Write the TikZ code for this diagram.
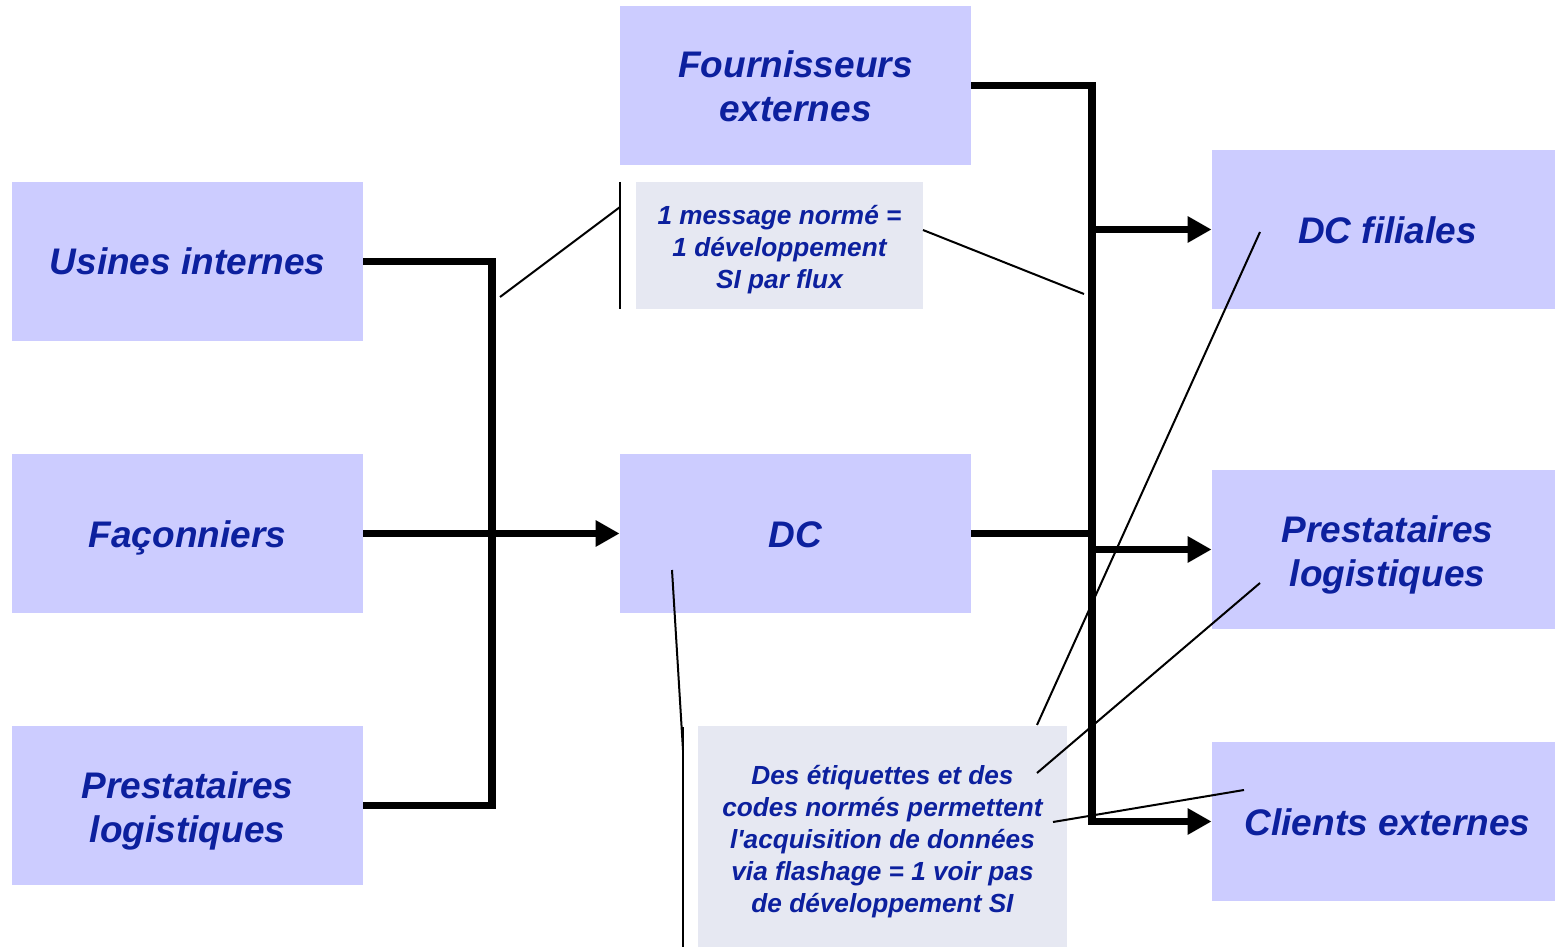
\documentclass[tikz,border=0pt]{standalone}
\usepackage{fontspec}
\setmainfont{Liberation Sans}[Ligatures=TeXOff]
\usetikzlibrary{arrows.meta}
\definecolor{boxfill}{HTML}{CCCCFF}
\definecolor{notefill}{HTML}{E6E8F2}
\definecolor{txtblue}{RGB}{12,32,158}
\newcommand{\topstrut}[1]{\rule{0pt}{#1}}
\newcommand{\botstrut}[1]{\rule[-#1]{0pt}{0pt}}
\begin{document}
\begin{tikzpicture}[x=0.5pt,y=-0.5pt,
  basebox/.style={rectangle, fill=boxfill, inner sep=0pt, minimum width=175.5pt, minimum height=79.5pt,
    align=center, text=txtblue, font=\fontsize{18.5}{22}\selectfont\bfseries\itshape},
  mainbox/.style={basebox,
    execute at begin node={\rule{0pt}{18pt}},
    execute at end node={\rule[-4.5pt]{0pt}{0pt}}},
  notebox/.style={rectangle, fill=notefill, inner sep=0pt, align=center, text=txtblue,
    font=\fontsize{13.1}{16}\selectfont\bfseries\itshape},
  note1box/.style={notebox, minimum width=143.5pt, minimum height=63.5pt},
  note2box/.style={notebox, minimum width=184.5pt, minimum height=110.5pt},
  flow/.style={line width=3.6pt, line join=miter},
  flowarrow/.style={flow, -{Triangle[length=12pt,width=12.5pt]}},
  pointer/.style={line width=1pt}
]
\useasboundingbox (0,0) rectangle (1555,947);

% main boxes (the right-hand ones run past the right edge)
\node[mainbox] (usines) at (187.5,261.5) {Usines internes};
\node[mainbox] (faco) at (187.5,533.5) {Façonniers};
\node[basebox] (prestL) at (187.5,805.5) {\topstrut{19pt}Prestataires\\logistiques\botstrut{4.5pt}};
\node[basebox] (fourn) at (795.5,85.5) {\topstrut{19pt}Fournisseurs\\externes\botstrut{4.5pt}};
\node[mainbox] (dc) at (795.5,533.5) {DC};
\node[mainbox] (dcf) at (1387.5,229.5) {DC filiales};
\node[basebox] (prestR) at (1387.5,549.5) {\topstrut{19pt}Prestataires\\logistiques\botstrut{4.5pt}};
\node[mainbox] (clients) at (1387.5,821.5) {Clients externes};

% note boxes
\node[note1box] (note1) at (779.5,245.5)
  {\topstrut{14.5pt}1 message normé =\\1 développement\\SI par flux\botstrut{4pt}};
\node[note2box] (note2) at (882.5,836.5)
  {\topstrut{15.5pt}Des étiquettes et des\\codes normés permettent\\l'acquisition de données\\via flashage = 1 voir pas\\de développement SI\botstrut{4pt}};

% flow coordinates
\coordinate (busL) at (492,533.5);
\coordinate (busRbot) at (1092,821.5);
\coordinate (jDC) at (1092,533.5);
\coordinate (jDCF) at (1092,229.5);
\coordinate (jPR) at (1092,549.5);

% flows
\draw[flow] (usines.east) -| (busL) |- (prestL.east);
\draw[flowarrow] (faco.east) -- (dc.west);
\draw[flowarrow] (fourn.east) -| (busRbot) -- (clients.west);
\draw[flow] (dc.east) -- (jDC);
\draw[flowarrow] (jDCF) -- (dcf.west);
\draw[flowarrow] (jPR) -- (prestR.west);

% pointer coordinates
\coordinate (b1top) at (620,182);
\coordinate (b1bot) at (620,309);
\coordinate (b1mid) at (620,207);
\coordinate (p1a) at (500,297);
\coordinate (n1r) at (923,230);
\coordinate (p1b) at (1084,294);
\coordinate (b2top) at (683,727);
\coordinate (b2bot) at (683,947);
\coordinate (b2mid) at (683,750);
\coordinate (pdc) at (672,570);
\coordinate (n2a) at (1037,725);
\coordinate (tdcf) at (1260,232);
\coordinate (n2b) at (1037,773);
\coordinate (tpr) at (1260,583);
\coordinate (n2c) at (1053,822);
\coordinate (tcl) at (1244,790);

% pointers
\draw[pointer] (b1top) -- (b1bot);
\draw[pointer] (b1mid) -- (p1a);
\draw[pointer] (n1r) -- (p1b);
\draw[pointer] (b2top) -- (b2bot);
\draw[pointer] (b2mid) -- (pdc);
\draw[pointer] (n2a) -- (tdcf);
\draw[pointer] (n2b) -- (tpr);
\draw[pointer] (n2c) -- (tcl);
\end{tikzpicture}
\end{document}
